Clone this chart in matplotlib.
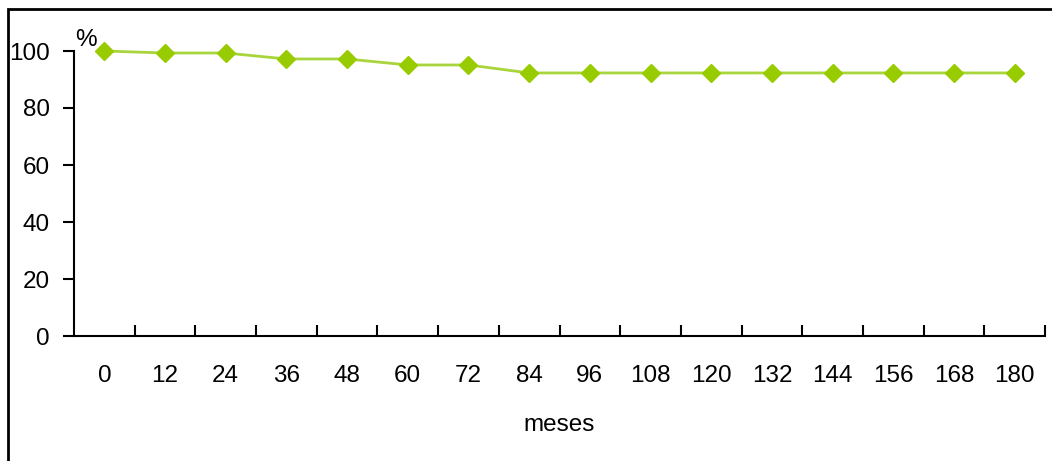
import numpy as np
import matplotlib.pyplot as plt
from matplotlib.patches import Rectangle

plt.rcParams['font.family'] = ['Liberation Sans', 'DejaVu Sans']

meses = [0, 12, 24, 36, 48, 60, 72, 84, 96, 108, 120, 132, 144, 156, 168, 180]
pct = [100, 99.3, 99.3, 97.2, 97.2, 95.1, 95.1, 92.3, 92.3, 92.3, 92.3, 92.3, 92.3, 92.3, 92.3, 92.3]

W, H = 1052, 461
fig = plt.figure(figsize=(W / 100, H / 100), dpi=100)

# axes box in pixels: left 74, right 1045, top(=100) 51, bottom(=0) 336
ax = fig.add_axes([74 / W, 1 - 336 / H, (1045 - 74) / W, (336 - 51) / H])

x = np.arange(len(meses))
ax.plot(x, pct, color="#A8D43C", lw=2, marker="D", ms=9,
        mfc="#99CC00", mec="#99CC00", clip_on=False, zorder=3)

ax.set_xlim(-0.5, len(meses) - 0.5)
ax.set_ylim(0, 100)

ax.spines["top"].set_visible(False)
ax.spines["right"].set_visible(False)
for s in ["left", "bottom"]:
    ax.spines[s].set_linewidth(1.5)

fs = 17.5
# category axis: ticks on boundaries, labels centred
ax.set_xticks(np.arange(len(meses)) + 0.5)
ax.set_xticklabels([])
ax.tick_params(axis="x", which="major", direction="in", length=8, width=1.5)
ax.set_xticks(x, minor=True)
ax.set_xticklabels([str(m) for m in meses], minor=True, fontsize=fs)
ax.tick_params(axis="x", which="minor", length=0, pad=21)

ax.set_yticks([0, 20, 40, 60, 80, 100])
ax.tick_params(axis="y", direction="out", length=8, width=1.5, labelsize=fs, pad=9.5)

ax.set_xlabel("meses", fontsize=fs, labelpad=19)
fig.text(86 / W, 1 - 40 / H, "%", fontsize=fs, ha="center", va="center")

fig.patches.append(Rectangle((8 / W, -0.1), 1.2, 1 - 9 / H + 0.1, transform=fig.transFigure,
                             fill=False, ec="black", lw=2))

fig.savefig("out.png", dpi=100)
